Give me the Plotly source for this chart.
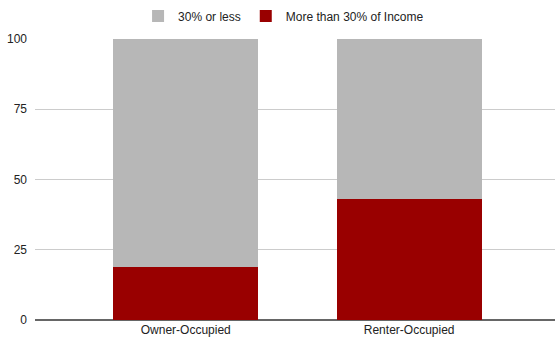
import plotly.graph_objects as go

categories = ["Owner-Occupied", "Renter-Occupied"]
more_than_30 = [19, 43]
thirty_or_less = [81, 57]
y_ticks = [0, 25, 50, 75, 100]

fig = go.Figure()
fig.add_trace(go.Bar(
    x=categories, y=more_than_30, name="More than 30% of Income",
    marker=dict(color="#990000", line=dict(width=0)), width=0.65,
))
fig.add_trace(go.Bar(
    x=categories, y=thirty_or_less, name="30% or less",
    marker=dict(color="#b7b7b7", line=dict(width=0)), width=0.65,
))

fig.update_layout(
    barmode="stack",
    width=555, height=337,
    margin=dict(l=35, r=0, t=39, b=17, pad=0),
    paper_bgcolor="white", plot_bgcolor="white",
    font=dict(family="Liberation Sans, Arial, sans-serif", size=12, color="#222222"),
    showlegend=True,
    legend=dict(
        orientation="h", traceorder="reversed",
        x=0.478, xanchor="center", y=1.082, yanchor="middle",
        font=dict(size=12, color="#222222"),
        itemwidth=30,
    ),
    xaxis=dict(
        type="category", range=[-0.675, 1.653],
        showgrid=False, showline=False, ticks="", automargin=False,
        ticklabelstandoff=1,
        tickfont=dict(size=12, color="#222222"),
    ),
    yaxis=dict(
        range=[0, 100], tickvals=y_ticks, showgrid=True, gridcolor="#cccccc",
        gridwidth=1, zeroline=True, zerolinecolor="#666666", zerolinewidth=1.5,
        showline=False, ticks="", automargin=False, ticklabelstandoff=7,
        tickfont=dict(size=12, color="#222222"),
    ),
)

fig.write_html(
    "out.html",
    config={"displayModeBar": False},
    post_script="document.body.style.margin='0px';document.body.style.overflow='hidden';",
)
